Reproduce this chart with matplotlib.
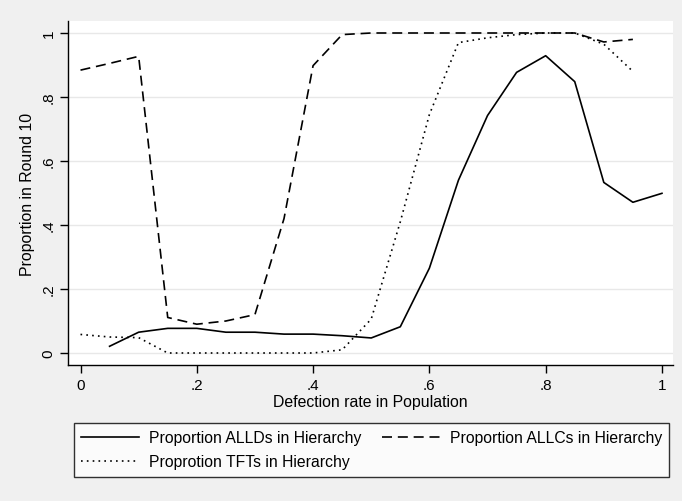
import matplotlib.pyplot as plt

# Défection rate grid for each series
alld_x = [.05, .1, .15, .2, .25, .3, .35, .4, .45, .5,
          .55, .6, .65, .7, .75, .8, .85, .9, .95, 1]
alld = [0.021, 0.065, 0.077, 0.077, 0.065, 0.065, 0.059, 0.059, 0.054, 0.047,
        0.082, 0.265, 0.54, 0.742, 0.877, 0.929, 0.848, 0.533, 0.471, 0.499]

allc_x = [0, .05, .1, .15, .2, .25, .3, .35, .4, .45,
          .5, .55, .6, .65, .7, .75, .8, .85, .9, .95]
allc = [0.884, 0.905, 0.927, 0.111, 0.09, 0.10, 0.12, 0.42, 0.898, 0.995,
        1, 1, 1, 1, 1, 1, 1, 1, 0.972, 0.98]

tft_x = allc_x
tft = [0.058, 0.05, 0.048, 0, 0, 0, 0, 0, 0, 0.01,
       0.106, 0.41, 0.745, 0.97, 0.985, 0.995, 1, 1, 0.965, 0.88]

xticks = [0, .2, .4, .6, .8, 1]
xlabels = ["0", ".2", ".4", ".6", ".8", "1"]
yticks = [0, .2, .4, .6, .8, 1]
ylabels = ["0", ".2", ".4", ".6", ".8", "1"]

plt.rcParams['font.family'] = ['Liberation Sans', 'DejaVu Sans']
fundo = '#f0f0f0'

fig = plt.figure(figsize=(6.82, 5.02), dpi=100, facecolor=fundo)
ax = fig.add_axes([68 / 682, 1 - 366 / 502, 605 / 682, 344 / 502])
ax.set_facecolor('white')

l1, = ax.plot(alld_x, alld, color='black', lw=1.2, ls='-',
              label="Proportion ALLDs in Hierarchy")
l2, = ax.plot(allc_x, allc, color='black', lw=1.2, ls=(0, (6, 3.5)),
              label="Proportion ALLCs in Hierarchy")
l3, = ax.plot(tft_x, tft, color='black', lw=1.2, ls=(0, (1, 2.5)),
              label="Proprotion TFTs in Hierarchy")

ax.set_xlim(-0.0215, 1.019)
ax.set_ylim(-0.0375, 1.0375)
ax.set_xticks(xticks, xlabels)
ax.set_yticks(yticks, ylabels)
for t in ax.get_yticklabels():
    t.set_rotation(90)
    t.set_va('center')
ax.tick_params(direction='out', length=6, width=1, labelsize=11, pad=3)
ax.grid(axis='y', color='#e8e8e8', lw=1)
ax.set_axisbelow(True)
for lado in ['top', 'right']:
    ax.spines[lado].set_visible(False)
for lado in ['left', 'bottom']:
    ax.spines[lado].set_linewidth(1)

ax.set_xlabel("Defection rate in Population", fontsize=11.4, labelpad=2)
ax.set_ylabel("Proportion in Round 10", fontsize=11.4, labelpad=5)

# ordem coluna a coluna para ficar ALLD | ALLC / TFT
leg = fig.legend([l1, l3, l2], [l1.get_label(), l3.get_label(), l2.get_label()],
                 ncol=2, loc='upper left', bbox_to_anchor=(74 / 682, 1 - 424 / 502),
                 frameon=True, fancybox=False, fontsize=11.3, handlelength=3.7,
                 columnspacing=1.3, handletextpad=0.64, borderaxespad=0,
                 borderpad=0.45, labelspacing=0.6)
leg.get_frame().set_edgecolor('black')
leg.get_frame().set_linewidth(1)
leg.get_frame().set_facecolor('white')

fig.savefig('out.png', dpi=100, facecolor=fundo)
